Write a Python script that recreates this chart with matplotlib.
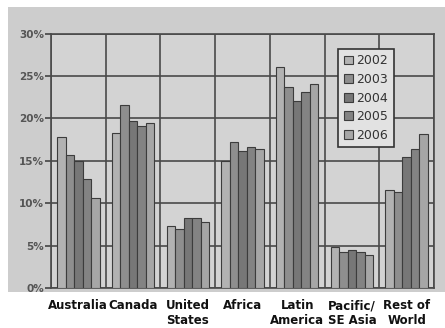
import matplotlib.pyplot as plt
import matplotlib.patches as mpatches
import numpy as np

regions = ["Australia", "Canada", "United\nStates", "Africa", "Latin\nAmerica",
           "Pacific/\nSE Asia", "Rest of\nWorld"]
years = ["2002", "2003", "2004", "2005", "2006"]
share = {
    "2002": [17.8, 18.3, 7.35, 15.0, 26.0, 4.8, 11.5],
    "2003": [15.7, 21.6, 6.95, 17.2, 23.7, 4.25, 11.3],
    "2004": [15.0, 19.7, 8.2, 16.2, 22.0, 4.5, 15.5],
    "2005": [12.8, 19.1, 8.2, 16.6, 23.1, 4.25, 16.4],
    "2006": [10.6, 19.4, 7.75, 16.4, 24.1, 3.9, 18.2],
}
yticks = [0, 5, 10, 15, 20, 25, 30]
colors = ["#b2b2b2", "#8e8e8e", "#777777", "#838383", "#a6a6a6"]

fig = plt.figure(figsize=(4.45, 3.28), dpi=100, facecolor="white")
# grey panel behind the chart
fig.patches.append(mpatches.Rectangle((8 / 445, 36 / 328), 437 / 445, 285 / 328,
                                      transform=fig.transFigure, facecolor="#cdcdcd",
                                      edgecolor="none", zorder=-10))
ax = fig.add_axes([51 / 445, 40 / 328, 383 / 445, 254.5 / 328])
ax.set_facecolor("#d3d3d3")

x = np.arange(len(regions))
w = 0.155
for i, yr in enumerate(years):
    ax.bar(x + (i - 2) * w, share[yr], width=w, color=colors[i],
           edgecolor="#3c3c3c", linewidth=0.8, label=yr, zorder=3)

ax.set_xlim(-0.5, len(regions) - 0.5)
ax.set_ylim(0, 30)
ax.set_yticks(yticks)
ax.set_yticklabels([f"{t}%" for t in yticks], fontsize=7.5, color="#555555",
                   fontweight="bold")
ax.set_xticks(x)
ax.set_xticklabels(regions, fontsize=8.5, fontweight="bold", color="#111111",
                   linespacing=1.15)
ax.tick_params(axis="x", length=0, pad=8)
ax.tick_params(axis="y", length=4, width=1.2, color="#444444", pad=1)

for b in np.arange(-0.5, len(regions), 1.0):
    ax.axvline(b, color="#4a4a4a", linewidth=1.2, zorder=1)
for t in yticks:
    ax.axhline(t, color="#4a4a4a", linewidth=1.2, zorder=1)
for s in ax.spines.values():
    s.set_color("#4a4a4a")
    s.set_linewidth(1.2)

leg = ax.legend(loc="upper right", bbox_to_anchor=(0.912, 0.965), fontsize=9,
                handlelength=0.7, handleheight=0.7, handletextpad=0.3,
                labelspacing=0.45, borderpad=0.45, fancybox=False,
                framealpha=1, facecolor="#e2e2e2", edgecolor="#333333")
leg.get_frame().set_linewidth(1.2)
for t in leg.get_texts():
    t.set_color("#333333")

fig.savefig("out.png", dpi=100, facecolor=fig.get_facecolor())
